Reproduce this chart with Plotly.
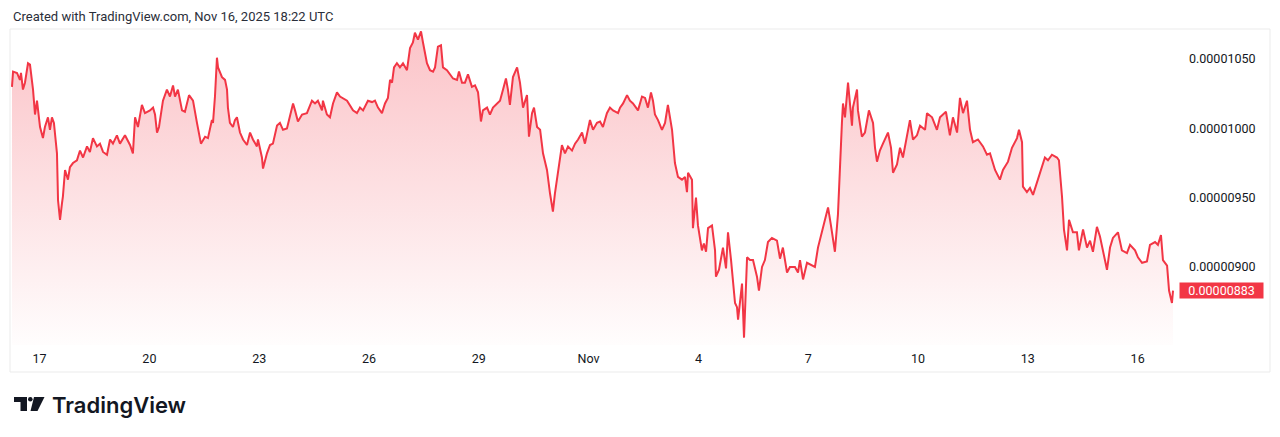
import pandas as pd
import plotly.graph_objects as go

# ---------------- data ----------------
# hours since 2025-10-16 00:00 UTC
hours = [
    5.9, 6.6, 9.2, 11.1, 11.8, 13.1, 14.4, 16.4, 17.7, 19.0, 19.7, 21.0, 22.3, 24.3, 26.2, 27.5, 29.5, 30.8, 32.1, 33.4,
    35.4, 36.1, 37.4, 38.7, 39.3, 40.7, 42.6, 43.9, 45.9, 48.5, 50.5, 52.5, 55.1, 57.0, 59.0, 61.6, 63.6, 65.6, 68.2, 70.2,
    72.1, 74.7, 76.7, 80.0, 83.3, 85.2, 86.6, 88.5, 91.1, 93.1, 96.4, 98.4, 99.7, 101.0, 102.3, 104.9, 107.5, 109.5, 111.5, 112.8,
    114.7, 117.4, 119.3, 122.0, 124.6, 127.2, 129.8, 132.5, 134.4, 137.0, 137.7, 139.0, 140.3, 141.0, 143.6, 145.6, 146.9, 147.5, 148.8, 150.8,
    152.1, 153.4, 155.4, 157.4, 160.0, 162.0, 163.9, 166.5, 167.2, 169.8, 170.5, 173.1, 175.1, 177.0, 179.7, 181.6, 183.6, 186.2, 188.2, 190.2,
    191.5, 193.4, 196.1, 199.3, 202.6, 204.6, 206.5, 209.2, 209.8, 212.4, 214.4, 216.4, 219.0, 221.0, 225.6, 227.5, 229.5, 232.1, 234.1, 236.1,
    239.3, 242.0, 243.9, 245.9, 248.5, 250.5, 252.4, 253.8, 255.1, 256.4, 258.3, 260.3, 262.3, 264.9, 266.9, 268.8, 270.1, 272.1, 274.1, 275.4,
    278.0, 280.0, 282.0, 283.3, 285.2, 287.2, 288.5, 291.1, 293.1, 295.1, 297.7, 299.0, 301.0, 302.9, 304.9, 307.5, 309.5, 311.5, 313.4, 314.7,
    317.4, 319.3, 321.3, 323.9, 325.9, 327.9, 329.8, 331.1, 332.4, 334.4, 337.1, 339.0, 341.0, 343.6, 344.9, 346.9, 348.2, 350.2, 352.2, 354.1,
    356.7, 358.7, 360.6, 361.9, 363.9, 366.5, 368.5, 370.5, 373.1, 375.1, 377.1, 379.7, 381.6, 383.6, 384.9, 386.9, 389.5, 391.5, 393.4, 396.0,
    398.0, 400.0, 403.3, 404.6, 406.6, 409.2, 411.1, 413.1, 416.4, 419.0, 421.0, 422.9, 424.9, 426.2, 427.5, 429.5, 432.1, 434.1, 436.0, 438.7,
    440.6, 442.6, 445.2, 447.2, 448.5, 449.2, 451.8, 452.4, 454.4, 455.7, 458.3, 459.6, 461.0, 462.3, 464.9, 466.9, 467.5, 469.5, 472.1, 474.1,
    475.4, 477.4, 478.7, 480.0, 481.3, 482.0, 484.6, 485.9, 487.9, 489.8, 491.8, 494.4, 495.7, 497.7, 499.6, 501.6, 504.2, 507.5, 509.5, 511.4,
    514.1, 516.0, 519.3, 521.3, 522.6, 524.6, 527.2, 530.5, 532.4, 534.4, 537.0, 539.0, 541.0, 542.9, 545.5, 547.5, 548.8, 550.1, 550.8, 552.1,
    554.1, 556.7, 557.3, 560.0, 560.6, 563.2, 565.2, 567.8, 570.5, 571.8, 573.1, 575.0, 577.0, 580.3, 582.3, 583.6, 586.2, 588.2, 590.1, 592.8,
    594.7, 596.7, 599.3, 601.3, 604.6, 605.9, 609.2, 612.4, 614.4, 618.3, 620.9, 622.9, 625.6, 627.5, 629.5, 632.1, 634.1, 636.0, 639.3, 642.6,
    645.2, 647.2, 650.5, 653.7, 655.7, 659.0, 661.6, 664.9, 666.2, 668.2, 668.8, 671.4, 673.4, 675.4, 678.0, 681.3, 683.2, 685.2, 687.8, 691.1,
    692.4, 694.4, 695.7, 697.7, 699.0, 701.6, 704.2, 705.5, 708.2, 710.8, 712.8, 714.7, 717.3, 719.3, 721.3, 723.9, 725.9, 727.8, 731.1, 733.7,
    737.0, 739.0, 742.3, 744.2, 746.9, 750.1, 752.1, 755.4, 757.3, 759.3, 760.6, 763.3, 764.6, 766.5, 767.2,
]

# price in units of 0.00000001
price_e8 = [
    1030, 1041, 1040, 1035, 1040, 1028, 1033, 1047, 1046, 1033, 1028, 1010, 1020, 1001, 993, 1001, 1008, 999, 1008, 1004,
    982, 948, 934, 946, 951, 970, 963, 972, 975, 977, 984, 979, 987, 983, 993, 987, 989, 983, 981, 992,
    989, 995, 989, 995, 988, 982, 1008, 1001, 1017, 1011, 1013, 1015, 1010, 997, 1001, 1020, 1028, 1023, 1031, 1023,
    1028, 1013, 1012, 1024, 1020, 1004, 989, 994, 993, 1006, 1004, 1023, 1051, 1044, 1037, 1035, 1028, 1015, 1004, 1001,
    1006, 1008, 997, 992, 988, 997, 992, 987, 992, 979, 971, 982, 988, 989, 1002, 1004, 999, 1000, 1008, 1018,
    1013, 1005, 1010, 1011, 1020, 1018, 1020, 1013, 1020, 1010, 1008, 1018, 1026, 1023, 1020, 1017, 1013, 1011, 1015, 1013,
    1020, 1019, 1020, 1015, 1011, 1018, 1022, 1035, 1033, 1044, 1047, 1044, 1047, 1042, 1058, 1062, 1069, 1064, 1070, 1062,
    1047, 1042, 1041, 1044, 1059, 1060, 1044, 1042, 1039, 1036, 1035, 1041, 1033, 1033, 1039, 1030, 1031, 1026, 1005, 1013,
    1015, 1010, 1015, 1018, 1020, 1028, 1036, 1028, 1017, 1037, 1044, 1033, 1015, 1024, 994, 1011, 1015, 1001, 999, 982,
    970, 953, 940, 953, 968, 988, 982, 987, 984, 989, 992, 997, 989, 1001, 1006, 999, 1004, 1005, 1001, 1011,
    1015, 1013, 1011, 1015, 1018, 1024, 1020, 1018, 1013, 1023, 1022, 1015, 1026, 1020, 1010, 1006, 999, 1004, 1017, 999,
    975, 965, 963, 965, 954, 968, 963, 928, 950, 930, 912, 917, 911, 928, 930, 912, 893, 898, 914, 899,
    925, 905, 887, 874, 871, 862, 888, 849, 907, 905, 905, 893, 883, 900, 905, 918, 921, 919, 906, 914,
    896, 900, 900, 896, 905, 891, 903, 901, 900, 914, 925, 934, 943, 930, 911, 938, 977, 1004, 1018, 1008,
    1033, 1002, 1015, 1028, 1013, 994, 997, 1013, 1004, 986, 976, 984, 989, 997, 986, 968, 974, 986, 979, 995,
    1006, 992, 995, 1002, 999, 1011, 1008, 999, 1008, 1012, 995, 1008, 997, 1022, 1011, 1020, 999, 990, 992, 987,
    981, 982, 970, 963, 970, 976, 986, 993, 999, 990, 958, 954, 957, 952, 961, 972, 979, 977, 981, 979,
    977, 951, 927, 912, 934, 925, 925, 912, 927, 914, 919, 911, 929, 922, 912, 898, 914, 921, 925, 912,
    910, 916, 912, 907, 903, 904, 916, 918, 916, 923, 905, 901, 883, 874, 883,
]

tick_dates = ["2025-10-17", "2025-10-20", "2025-10-23", "2025-10-26", "2025-10-29",
              "2025-11-01", "2025-11-04", "2025-11-07", "2025-11-10", "2025-11-13", "2025-11-16"]
tick_labels = ["17", "20", "23", "26", "29", "Nov", "4", "7", "10", "13", "16"]
price_ticks = [0.00000900, 0.00000950, 0.00001000, 0.00001050]
last_price = 0.00000883
last_price_text = "0.00000883"
title_text = "Created with TradingView.com, Nov 16, 2025 18:22 UTC"

assert len(hours) == len(price_e8)

start = pd.Timestamp("2025-10-16 00:00")
times = [start + pd.Timedelta(hours=h) for h in hours]
prices = [v * 1e-8 for v in price_e8]

# ---------------- layout geometry ----------------
# The page body has an 8px margin, so the figure starts at (8, 8) of the window.
OFF = 8
W, H = 1280 - OFF, 437 - OFF
PLOT_L, PLOT_R, PLOT_T, PLOT_B = 10, 1175, 30, 345   # plot area in window pixels
L, R, T, B = PLOT_L - OFF, 1280 - PLOT_R, PLOT_T - OFF, 437 - PLOT_B
PW, PH = PLOT_R - PLOT_L, PLOT_B - PLOT_T


def px(x):
    return (x - PLOT_L) / PW


def py(y):
    return (PLOT_B - y) / PH


x_range = [start + pd.Timedelta(hours=4.6), start + pd.Timedelta(hours=768.5)]
y_range = [843.7e-8, 1071.0e-8]

RED = "#F23645"
TXT = "#131722"
FONT = "Roboto"
AX_SIZE = 12.5

fig = go.Figure()
fig.add_trace(go.Scatter(
    x=times, y=prices, mode="lines",
    line=dict(color=RED, width=2),
    fill="tozeroy",
    fillgradient=dict(
        type="vertical",
        colorscale=[[0, "rgba(242,54,69,0.01)"], [1, "rgba(242,54,69,0.30)"]],
        start=y_range[0], stop=y_range[1],
    ),
    hoverinfo="skip", showlegend=False,
))

shapes = [
    # chart frame
    dict(type="rect", xref="paper", yref="paper", x0=px(10), x1=px(1270), y0=py(372), y1=py(29),
         line=dict(color="#EBEBEB", width=1), fillcolor="rgba(0,0,0,0)", layer="below"),
    # TradingView logo mark
    dict(type="rect", xref="paper", yref="paper", x0=px(14), x1=px(27), y0=py(402), y1=py(397),
         line=dict(width=0), fillcolor=TXT),
    dict(type="rect", xref="paper", yref="paper", x0=px(20.5), x1=px(27), y0=py(411), y1=py(397),
         line=dict(width=0), fillcolor=TXT),
    dict(type="circle", xref="paper", yref="paper", x0=px(28), x1=px(32.6), y0=py(401.6), y1=py(397),
         line=dict(width=0), fillcolor=TXT),
    dict(type="path", xref="paper", yref="paper",
         path=f"M {px(34)},{py(397)} L {px(44.5)},{py(397)} L {px(37.5)},{py(411)} L {px(30.5)},{py(411)} Z",
         line=dict(width=0), fillcolor=TXT),
]

annotations = [
    dict(xref="paper", yref="paper", x=px(11), y=py(17), xanchor="left", yanchor="middle",
         text=title_text, showarrow=False, font=dict(family=FONT, size=13, color="#2A2E39")),
    dict(xref="paper", yref="y", x=px(1179), y=last_price, xanchor="left", yanchor="middle",
         text=last_price_text, showarrow=False, bgcolor=RED, borderpad=1.5, width=80, height=12,
         font=dict(family=FONT, size=AX_SIZE, color="white")),
    dict(xref="paper", yref="paper", x=px(50), y=py(404.5), xanchor="left", yanchor="middle",
         text="TradingView", showarrow=False,
         font=dict(family="Inter", size=22, color=TXT, weight=600)),
]

fig.update_layout(
    width=W, height=H,
    margin=dict(l=L, r=R, t=T, b=B, autoexpand=False),
    paper_bgcolor="white", plot_bgcolor="white",
    font=dict(family=FONT, size=AX_SIZE, color=TXT),
    xaxis=dict(range=x_range, tickvals=tick_dates, ticktext=tick_labels,
               showgrid=False, zeroline=False, showline=False, ticks="",
               tickfont=dict(family=FONT, size=AX_SIZE, color=TXT), ticklabelstandoff=4,
               fixedrange=True),
    yaxis=dict(range=y_range, side="right", tickvals=price_ticks, tickformat=".8f",
               showgrid=False, zeroline=False, showline=False, ticks="",
               tickfont=dict(family=FONT, size=AX_SIZE, color=TXT), ticklabelstandoff=13,
               fixedrange=True),
    shapes=shapes,
    annotations=annotations,
    showlegend=False,
)

fig.write_html("out.html")
